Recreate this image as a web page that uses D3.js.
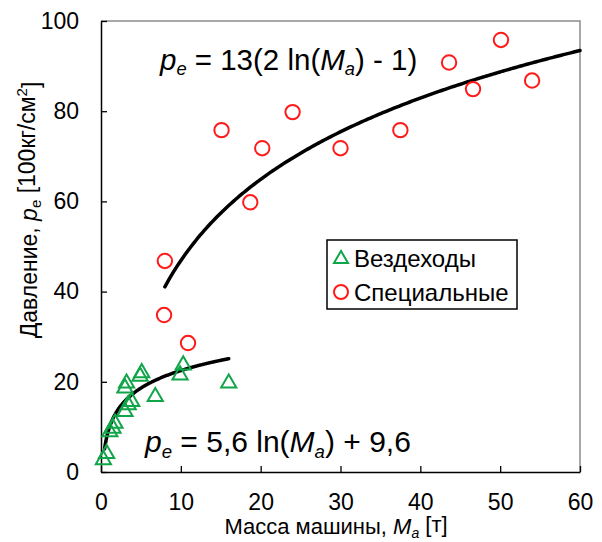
<!DOCTYPE html>
<html>
<head>
<meta charset="utf-8">
<script src="https://cdn.jsdelivr.net/npm/d3@7"></script>
<style>
  html, body { margin: 0; padding: 0; background: #fff; }
  svg { display: block; font-family: "Liberation Sans", Arial, sans-serif; }
</style>
</head>
<body>
<svg id="chart" width="602" height="542"></svg>
<script>
// ---- Data ----
const vehMass = [0.3, 0.7, 1.1, 1.5, 1.75, 3.0, 3.4, 3.85, 3.0, 3.2, 4.9, 5.1, 6.8, 9.9, 10.3, 16.0];
const vehPress = [2.7, 4.1, 8.9, 9.7, 10.8, 13.4, 14.9, 15.6, 18.6, 19.7, 21.2, 22.0, 16.7, 21.5, 23.7, 19.7];

const specMass = [50.1, 43.6, 54.0, 46.6, 24.0, 15.1, 37.5, 20.2, 30.0, 18.7, 8.0, 7.9, 10.9];
const specPress = [95.8, 90.8, 86.8, 84.9, 79.8, 75.8, 75.8, 71.8, 71.8, 59.8, 46.8, 34.8, 28.6];

const xTicks = [0, 10, 20, 30, 40, 50, 60];
const yTicks = [0, 20, 40, 60, 80, 100];

const legendLabels = ["Вездеходы", "Специальные"];

// fit ranges (in tonnes)
const vehFitRange = [0.45, 16];
const specFitRange = [8, 60];

// ---- Layout ----
const svg = d3.select("#chart");
const mLeft = 101, mRight = 580, mTop = 21, mBottom = 472;
const x = d3.scaleLinear().domain([0, 60]).range([mLeft, mRight]);
const y = d3.scaleLinear().domain([0, 100]).range([mBottom, mTop]);

const green = "#10a548";
const red = "#ff1a1a";
const FONT = '"Liberation Sans", Arial, sans-serif';

// frame (top & right gray)
svg.append("path")
  .attr("d", `M${mLeft},${mTop}H${mRight}V${mBottom}`)
  .attr("fill", "none").attr("stroke", "#8c8c8c").attr("stroke-width", 1.5);

// axes
const xAxis = svg.append("g").attr("transform", `translate(0,${mBottom})`)
  .call(d3.axisBottom(x).tickValues(xTicks).tickSizeInner(-6).tickSizeOuter(0).tickPadding(22));
const yAxis = svg.append("g").attr("transform", `translate(${mLeft},0)`)
  .call(d3.axisLeft(y).tickValues(yTicks).tickSizeInner(-6).tickSizeOuter(0).tickPadding(22));
[xAxis, yAxis].forEach(g => {
  g.select(".domain").attr("stroke", "#000").attr("stroke-width", 1.5);
  g.selectAll(".tick line").attr("stroke", "#000").attr("stroke-width", 1.3);
  g.selectAll(".tick text").attr("fill", "#000").style("font-size", "23px").style("font-family", FONT);
});

// fit curves
function fitPoints(fn, range) {
  const pts = [];
  const n = 200;
  for (let i = 0; i <= n; i++) {
    const m = range[0] + (range[1] - range[0]) * i / n;
    pts.push([m, fn(m)]);
  }
  return pts;
}
const line = d3.line().x(d => x(d[0])).y(d => y(d[1])).curve(d3.curveLinear);
svg.append("path")
  .attr("d", line(fitPoints(m => 5.6 * Math.log(m) + 9.6, vehFitRange)))
  .attr("fill", "none").attr("stroke", "#000").attr("stroke-width", 3.5).attr("stroke-linecap", "round");
svg.append("path")
  .attr("d", line(fitPoints(m => 13 * (2 * Math.log(m) - 1), specFitRange)))
  .attr("fill", "none").attr("stroke", "#000").attr("stroke-width", 3.5).attr("stroke-linecap", "round");

// markers
const tri = d3.symbol().type(d3.symbolTriangle).size(100);
svg.append("g").selectAll("path").data(vehMass.map((m, i) => [m, vehPress[i]])).join("path")
  .attr("d", tri)
  .attr("transform", d => `translate(${x(d[0])},${y(d[1])})`)
  .attr("fill", "none").attr("stroke", green).attr("stroke-width", 2);

svg.append("g").selectAll("circle").data(specMass.map((m, i) => [m, specPress[i]])).join("circle")
  .attr("cx", d => x(d[0])).attr("cy", d => y(d[1])).attr("r", 7.2)
  .attr("fill", "none").attr("stroke", red).attr("stroke-width", 2);

// formulas
function formula(xp, yp, parts, size) {
  const t = svg.append("text").attr("x", xp).attr("y", yp)
    .style("font-size", size + "px").attr("fill", "#000");
  parts.forEach(p => {
    const s = t.append("tspan").text(p.t);
    if (p.i) s.style("font-style", "italic");
    if (p.sub) s.attr("dy", "0.3em").style("font-size", (size * 0.62) + "px");
    if (p.back) s.attr("dy", "-0.186em");
  });
  return t;
}
formula(160, 70, [
  {t: "p", i: 1}, {t: "e", i: 1, sub: 1}, {t: " = 13(2 ln(", back: 1}, {t: "M", i: 1}, {t: "a", i: 1, sub: 1},
  {t: ") - 1)", back: 1}
], 29.5);
formula(145, 452, [
  {t: "p", i: 1}, {t: "e", i: 1, sub: 1}, {t: " = 5,6 ln(", back: 1}, {t: "M", i: 1}, {t: "a", i: 1, sub: 1},
  {t: ") + 9,6", back: 1}
], 30);

// legend
const lg = svg.append("g");
lg.append("rect").attr("x", 327).attr("y", 240).attr("width", 190).attr("height", 69)
  .attr("fill", "#fff").attr("stroke", "#000").attr("stroke-width", 1.5);
lg.append("path").attr("d", d3.symbol().type(d3.symbolTriangle).size(85))
  .attr("transform", "translate(341,259)")
  .attr("fill", "none").attr("stroke", green).attr("stroke-width", 2);
lg.append("circle").attr("cx", 341).attr("cy", 292).attr("r", 7)
  .attr("fill", "none").attr("stroke", red).attr("stroke-width", 2);
lg.selectAll("text").data(legendLabels).join("text")
  .attr("x", 354).attr("y", (d, i) => 267 + i * 34)
  .style("font-size", "24px").attr("fill", "#000").text(d => d);

// x title
const xt = svg.append("text").attr("x", 336).attr("y", 534).attr("text-anchor", "middle")
  .style("font-size", "22px").attr("fill", "#000");
xt.append("tspan").text("Масса машины, ");
xt.append("tspan").text("M").style("font-style", "italic");
xt.append("tspan").text("a").style("font-style", "italic").style("font-size", "14px").attr("dy", "0.25em");
xt.append("tspan").text(" [т]").attr("dy", "-0.25em");

// y title
const yt = svg.append("text").attr("transform", "translate(37,210) rotate(-90)").attr("text-anchor", "middle")
  .style("font-size", "23px").attr("fill", "#000");
yt.append("tspan").text("Давление, ");
yt.append("tspan").text("p").style("font-style", "italic");
yt.append("tspan").text("e").style("font-size", "15px").attr("dy", "0.25em");
yt.append("tspan").text(" [100кг/см").attr("dy", "-0.25em");
yt.append("tspan").text("2").style("font-size", "15px").attr("dy", "-0.55em");
yt.append("tspan").text("]").attr("dy", "0.55em");
</script>
</body>
</html>
